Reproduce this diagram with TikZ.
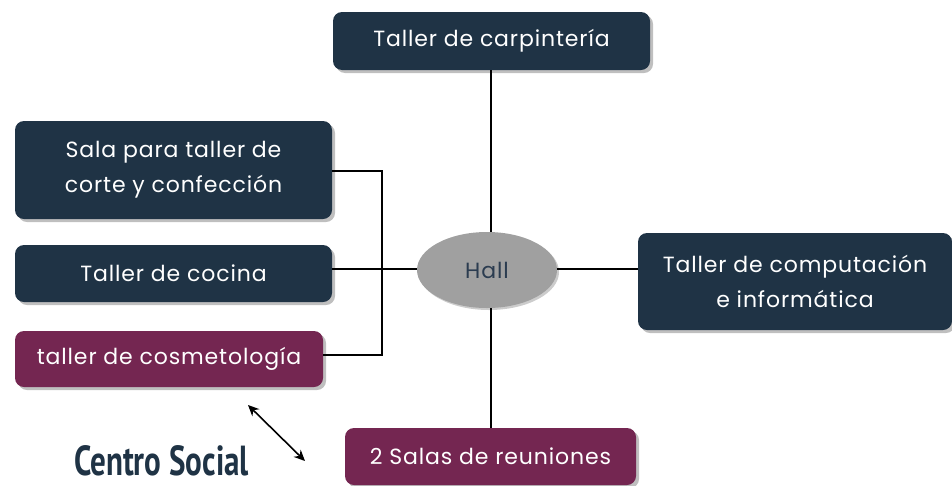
\documentclass[tikz,border=0pt]{standalone}
\usepackage{fontspec}
\setmainfont{Poppins}[LetterSpace=4]
\newfontfamily\titlefont{PT Sans}
\usetikzlibrary{shapes.geometric,shadows,arrows.meta}
\definecolor{navy}{HTML}{1F3345}
\definecolor{plum}{HTML}{742651}
\definecolor{hallgray}{HTML}{A0A0A0}
\definecolor{halltext}{HTML}{2B3C50}
\tikzset{
  boxbase/.style={rounded corners=9pt, text=white, align=center, inner sep=0pt,
    font=\fontsize{22}{35}\selectfont,
    drop shadow={shadow xshift=3pt, shadow yshift=-3pt, opacity=0.25, fill=black}},
  navybox/.style={boxbase, fill=navy},
  plumbox/.style={boxbase, fill=plum},
  conn/.style={draw=black, line width=1.2pt},
}
\begin{document}
\begin{tikzpicture}[x=1pt,y=-1pt]
\useasboundingbox (0,0) rectangle (952,485);
\coordinate (bxr) at (382,171);
\coordinate (bxb) at (382,355);
\node[navybox, minimum width=317pt, minimum height=58pt] (carp) at (491.5,41) {Taller de carpintería};
\node[navybox, minimum width=317pt, minimum height=98pt] (sala) at (173.5,170) {Sala para taller de\\corte y confección};
\node[navybox, minimum width=317pt, minimum height=57pt] (coc) at (173.5,273.5) {Taller de cocina};
\node[plumbox, minimum width=308pt, minimum height=56pt] (cos) at (169,359) {taller de cosmetología};
\node[navybox, minimum width=314pt, minimum height=97pt] (comp) at (795,281.5) {Taller de computación\\e informática};
\node[plumbox, minimum width=291pt, minimum height=57pt] (reun) at (490.5,456.5) {2 Salas de reuniones};
\node[ellipse, fill=hallgray, text=halltext, minimum width=140pt, minimum height=76pt, inner sep=0pt,
  font=\fontsize{22}{24}\selectfont,
  drop shadow={shadow xshift=2pt, shadow yshift=-2pt, opacity=0.2, fill=black}] (hall) at (487,270) {Hall};
\draw[conn] (carp.south -| 491,0) -- (491,232);
\draw[conn] (491,308) -- (reun.north -| 491,0);
\draw[conn] (hall.east |- 0,269) -- (comp.west |- 0,269);
\draw[conn] (coc.east |- 0,269) -- (hall.west |- 0,269);
\draw[conn] (sala.east |- bxr) -- (bxr) -- (bxb) -- (cos.east |- bxb);
\node[text=navy, font=\titlefont\bfseries\fontsize{42}{44}\selectfont, xscale=0.74, inner sep=0pt, text depth=0pt, anchor=base west] (cs) at (74,475) {Centro Social};
\coordinate (a1) at (248,405);
\coordinate (a2) at (305,461);
\draw[line width=1.6pt, {Stealth[length=11pt,width=10pt]}-{Stealth[length=11pt,width=10pt]}] (a1) -- (a2);
\end{tikzpicture}
\end{document}
